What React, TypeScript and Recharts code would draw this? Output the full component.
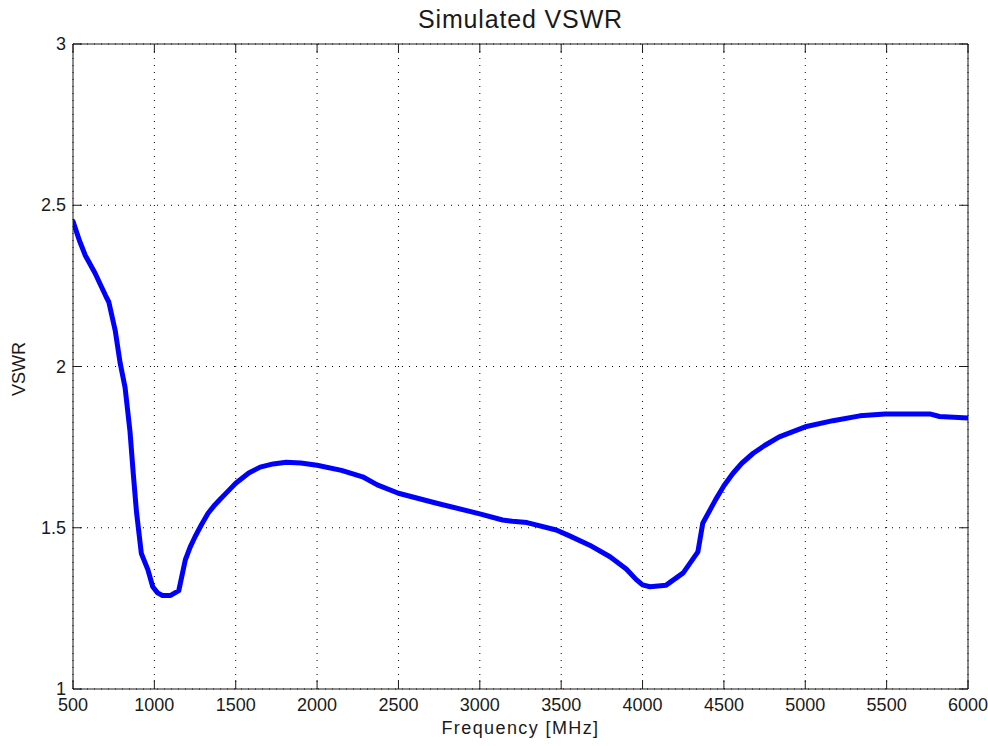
import React from 'react';
import { LineChart, Line, XAxis, YAxis, CartesianGrid } from 'recharts';

const frequencyMHz = [
  500, 540, 575, 635, 700, 720, 760, 790, 820, 850, 870, 890, 920, 960, 990,
  1020, 1050, 1100, 1150, 1190, 1220, 1250, 1290, 1330, 1370, 1400, 1450, 1500, 1580, 1650,
  1730, 1810, 1900, 2000, 2150, 2280, 2370, 2500, 2735, 3000, 3140, 3200, 3290, 3470, 3555,
  3675, 3800, 3900, 3960, 4000, 4045, 4145, 4250, 4340, 4370, 4450, 4500, 4556, 4610, 4680,
  4750, 4840, 5000, 5170, 5335, 5490, 5765, 5825, 6000,
];
const vswr = [
  2.45, 2.39, 2.345, 2.29, 2.22, 2.2, 2.11, 2.01, 1.935, 1.8, 1.67, 1.55, 1.42, 1.37, 1.317,
  1.298, 1.29, 1.29, 1.305, 1.4, 1.44, 1.472, 1.51, 1.545, 1.57, 1.586, 1.612, 1.638, 1.67, 1.688,
  1.698, 1.703, 1.701, 1.694, 1.678, 1.658, 1.633, 1.607, 1.576, 1.543, 1.524, 1.52, 1.516, 1.493, 1.474,
  1.446, 1.41, 1.372, 1.34, 1.323, 1.317, 1.322, 1.36, 1.425, 1.514, 1.588, 1.63, 1.669, 1.7, 1.731,
  1.755, 1.782, 1.813, 1.832, 1.847, 1.853, 1.853, 1.845, 1.84,
];
const xTicks = [500, 1000, 1500, 2000, 2500, 3000, 3500, 4000, 4500, 5000, 5500, 6000];
const yTicks = [1, 1.5, 2, 2.5, 3];
const titleText = 'Simulated VSWR';
const xLabelText = 'Frequency [MHz]';
const yLabelText = 'VSWR';

const data = frequencyMHz.map((f, i) => ({ f, v: vswr[i] }));

const W = 988;
const H = 746;
const PLOT_LEFT = 73;
const PLOT_RIGHT = 968;
const PLOT_TOP = 44;
const PLOT_BOTTOM = 689;
const FONT = '"Liberation Sans", Arial, Helvetica, sans-serif';
const INK = '#1a1a1a';
const TICK_LEN = 9;

const BottomTick = (props: any) => {
  const { x, y, payload } = props;
  return (
    <g>
      <line x1={x} y1={y} x2={x} y2={y - TICK_LEN} stroke={INK} strokeWidth={1} />
      <text x={x} y={y + 22} textAnchor="middle" fontSize={18} fontFamily={FONT} fill={INK}>
        {payload.value}
      </text>
    </g>
  );
};

const LeftTick = (props: any) => {
  const { x, y, payload } = props;
  return (
    <g>
      <line x1={x} y1={y} x2={x + TICK_LEN} y2={y} stroke={INK} strokeWidth={1} />
      <text x={x - 7} y={y + 6} textAnchor="end" fontSize={18} fontFamily={FONT} fill={INK}>
        {payload.value}
      </text>
    </g>
  );
};

const TopTick = (props: any) => {
  const { x, y } = props;
  return <line x1={x} y1={y} x2={x} y2={y + TICK_LEN} stroke={INK} strokeWidth={1} />;
};

const RightTick = (props: any) => {
  const { x, y } = props;
  return <line x1={x} y1={y} x2={x - TICK_LEN} y2={y} stroke={INK} strokeWidth={1} />;
};

const TitleLabel = () => (
  <text
    x={(PLOT_LEFT + PLOT_RIGHT) / 2}
    y={28}
    textAnchor="middle"
    fontSize={25}
    letterSpacing={0.85}
    fontFamily={FONT}
    fill={INK}
  >
    {titleText}
  </text>
);

const XLabel = () => (
  <text
    x={(PLOT_LEFT + PLOT_RIGHT) / 2}
    y={734}
    textAnchor="middle"
    fontSize={18}
    letterSpacing={1.4}
    fontFamily={FONT}
    fill={INK}
  >
    {xLabelText}
  </text>
);

const YLabel = () => (
  <text
    x={25}
    y={369}
    transform="rotate(-90, 25, 369)"
    textAnchor="middle"
    fontSize={18}
    fontFamily={FONT}
    fill={INK}
  >
    {yLabelText}
  </text>
);

export default function App() {
  return (
    <div style={{ position: 'absolute', left: 0, top: 0, width: W, height: H, background: '#fff' }}>
      <LineChart
        width={W}
        height={H}
        data={data}
        margin={{ top: 0, right: 0, bottom: H - PLOT_BOTTOM - 57, left: PLOT_LEFT - 60 }}
      >
        <CartesianGrid stroke="#000" strokeDasharray="1 6" strokeWidth={1} />
        <XAxis
          dataKey="f"
          type="number"
          domain={[500, 6000]}
          ticks={xTicks}
          allowDataOverflow
          height={57}
          axisLine={{ stroke: INK, strokeWidth: 1 }}
          tickLine={false}
          tickSize={0}
          tickMargin={0}
          tick={<BottomTick />}
          interval={0}
          label={{ content: () => <XLabel /> }}
        />
        <XAxis
          xAxisId="top"
          orientation="top"
          dataKey="f"
          type="number"
          domain={[500, 6000]}
          ticks={xTicks}
          allowDataOverflow
          height={PLOT_TOP}
          axisLine={{ stroke: INK, strokeWidth: 1 }}
          tickLine={false}
          tickSize={0}
          tickMargin={0}
          tick={<TopTick />}
          interval={0}
          label={{ content: () => <TitleLabel /> }}
        />
        <YAxis
          dataKey="v"
          type="number"
          domain={[1, 3]}
          ticks={yTicks}
          allowDataOverflow
          width={60}
          axisLine={{ stroke: INK, strokeWidth: 1 }}
          tickLine={false}
          tickSize={0}
          tickMargin={0}
          tick={<LeftTick />}
          interval={0}
          label={{ content: () => <YLabel /> }}
        />
        <YAxis
          yAxisId="right"
          orientation="right"
          dataKey="v"
          type="number"
          domain={[1, 3]}
          ticks={yTicks}
          allowDataOverflow
          width={W - PLOT_RIGHT}
          axisLine={{ stroke: INK, strokeWidth: 1 }}
          tickLine={false}
          tickSize={0}
          tickMargin={0}
          tick={<RightTick />}
          interval={0}
        />
        <Line
          type="linear"
          dataKey="v"
          stroke="#0000ff"
          strokeWidth={5}
          dot={false}
          activeDot={false}
          isAnimationActive={false}
          strokeLinejoin="round"
          strokeLinecap="round"
        />
      </LineChart>
    </div>
  );
}
